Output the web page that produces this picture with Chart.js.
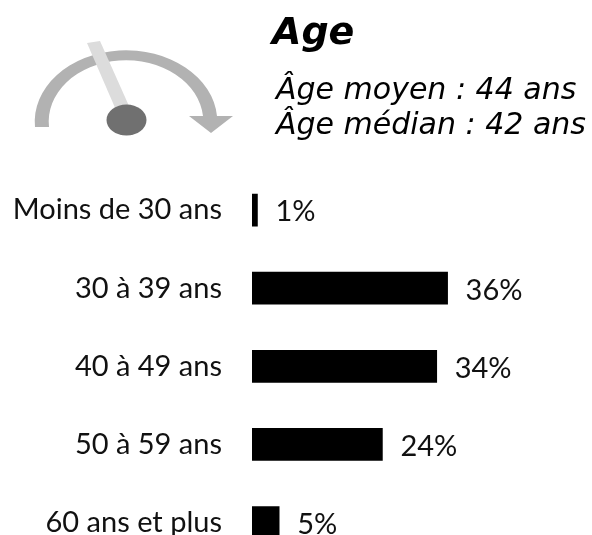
<!DOCTYPE html>
<html lang="fr">
<head>
<meta charset="utf-8">
<title>Age</title>
<script src="https://cdn.jsdelivr.net/npm/chart.js@4"></script>
<style>
html,body{margin:0;padding:0;background:#fff;width:592px;height:535px;overflow:hidden}
#stage{position:relative;width:592px;height:535px;overflow:hidden}
#wrap{position:absolute;left:0;top:0;width:592px;height:609px}
canvas{display:block;width:592px;height:609px}
svg{position:absolute;left:0;top:0}
.t{position:absolute;font-family:"DejaVu Sans";font-style:oblique;color:#000;white-space:nowrap;line-height:1}
</style>
</head>
<body>
<div id="stage">
<div id="wrap"><canvas id="c" width="592" height="609"></canvas></div>
<svg width="260" height="160" viewBox="0 0 260 160">
<path d="M35,127 A91,71 0 0 1 217,116 L203,116 A77,61 0 0 0 49,127 Z" fill="#b2b2b2"/>
<polygon points="189,116 233,116 211,133" fill="#b2b2b2"/>
<polygon points="87,43 100,41 129,106 116,110" fill="#dcdcdc"/>
<ellipse cx="126.5" cy="120" rx="20" ry="15.5" fill="#707070"/>
</svg>
<div class="t" id="title" style="left:272px;top:12px;font-size:38px;font-weight:bold">Age</div>
<div class="t" style="left:276px;top:74px;font-size:30px">Âge moyen : 44 ans</div>
<div class="t" style="left:276px;top:109px;font-size:30px">Âge médian : 42 ans</div>
</div>
<script>
const categories = ["Moins de 30 ans", "30 à 39 ans", "40 à 49 ans", "50 à 59 ans", "60 ans et plus"];
const shares = [1, 36, 34, 24, 5];
const axisMax = 60;

const labelFont = '29px Lato';
const valueLabels = {
  id: 'valueLabels',
  afterDatasetsDraw(chart) {
    const ctx = chart.ctx;
    const meta = chart.getDatasetMeta(0);
    ctx.save();
    ctx.font = labelFont;
    ctx.fillStyle = '#111';
    ctx.textAlign = 'left';
    ctx.textBaseline = 'middle';
    meta.data.forEach((bar, i) => {
      ctx.fillText(shares[i] + '%', bar.x + 18, bar.y + 2);
    });
    ctx.restore();
  }
};

const chart = new Chart(document.getElementById('c'), {
  type: 'bar',
  data: {
    labels: categories,
    datasets: [{ data: shares, backgroundColor: '#000', barThickness: 32, borderWidth: 0 }]
  },
  options: {
    indexAxis: 'y',
    responsive: false,
    maintainAspectRatio: false,
    animation: false,
    layout: { padding: { top: 171, right: 14, bottom: 0, left: 0 } },
    plugins: { legend: { display: false }, tooltip: { enabled: false }, title: { display: false } },
    scales: {
      x: { min: 0, max: axisMax, display: false },
      y: {
        grid: { display: false, drawTicks: false },
        border: { display: false },
        afterFit(s) { s.width = 252; },
        ticks: { color: '#111', font: { family: 'Lato', size: 29 }, padding: 30, autoSkip: false }
      }
    }
  },
  plugins: [valueLabels]
});
</script>
</body>
</html>
